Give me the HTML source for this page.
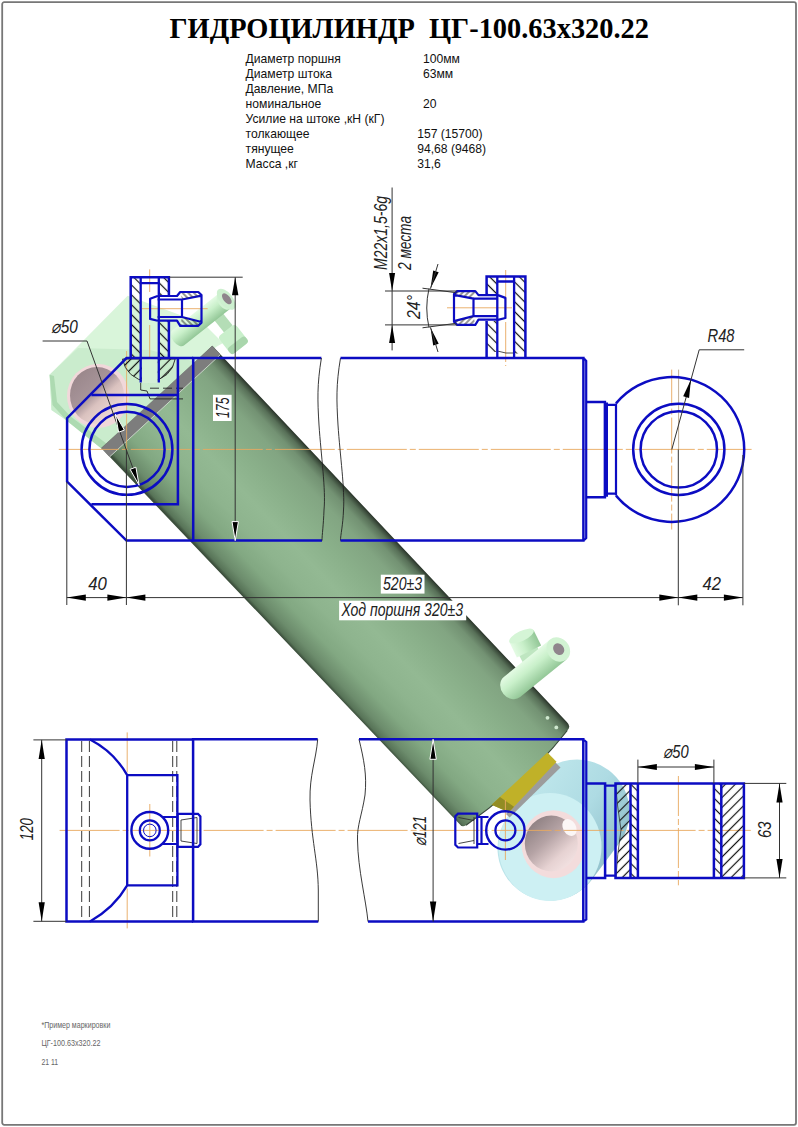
<!DOCTYPE html>
<html lang="ru"><head><meta charset="utf-8"><title>Гидроцилиндр ЦГ-100.63х320.22</title>
<style>
html,body{margin:0;padding:0;background:#fff;}
body{width:798px;height:1127px;overflow:hidden;position:relative;font-family:"Liberation Sans",sans-serif;}
svg{position:absolute;left:0;top:0;display:block;}
svg text{font-family:"Liberation Sans",sans-serif;}
svg text.ttl{font-family:"Liberation Serif",serif;font-weight:bold;}
</style></head><body>
<svg width="798" height="1127" viewBox="0 0 798 1127">
<defs>
<linearGradient id="cyl" gradientUnits="userSpaceOnUse" x1="126.7" y1="472.2" x2="235.1" y2="370">
<stop offset="0" stop-color="#3c4f3c"/>
<stop offset="0.02" stop-color="#587458"/>
<stop offset="0.07" stop-color="#6c8c6c"/>
<stop offset="0.18" stop-color="#82a882"/>
<stop offset="0.32" stop-color="#8eb48e"/>
<stop offset="0.48" stop-color="#93b993"/>
<stop offset="0.65" stop-color="#8ab08a"/>
<stop offset="0.82" stop-color="#82a582"/>
<stop offset="0.91" stop-color="#739273"/>
<stop offset="0.96" stop-color="#587058"/>
<stop offset="0.985" stop-color="#3c4c3c"/>
<stop offset="1" stop-color="#283228"/>
</linearGradient>
<linearGradient id="tube" x1="0" y1="0" x2="0" y2="1">
<stop offset="0" stop-color="#e4fbe4"/>
<stop offset="0.4" stop-color="#c9f0ca"/>
<stop offset="1" stop-color="#93c797"/>
</linearGradient>
<linearGradient id="cyan" x1="0" y1="0" x2="1" y2="1">
<stop offset="0" stop-color="#d8f6f6"/>
<stop offset="1" stop-color="#a8dde2"/>
</linearGradient>
<linearGradient id="eyeside" gradientUnits="userSpaceOnUse" x1="520" y1="780" x2="630" y2="850">
<stop offset="0" stop-color="#c2e9ed"/><stop offset="0.55" stop-color="#aedbe3"/><stop offset="1" stop-color="#8bbbc6"/>
</linearGradient>
<linearGradient id="bore2" x1="0.15" y1="0.1" x2="0.85" y2="0.9">
<stop offset="0" stop-color="#8e8082"/><stop offset="0.4" stop-color="#b5a3a5"/><stop offset="0.75" stop-color="#e6d2d2"/><stop offset="1" stop-color="#f3e2e2"/>
</linearGradient>
<linearGradient id="bore3" x1="0.15" y1="0.1" x2="0.85" y2="0.9">
<stop offset="0" stop-color="#9a878b"/><stop offset="0.42" stop-color="#a8959a"/><stop offset="0.6" stop-color="#dac2bf"/><stop offset="1" stop-color="#f2e0dc"/>
</linearGradient>
<radialGradient id="bore" cx="0.35" cy="0.35" r="0.8">
<stop offset="0" stop-color="#8c7c7e"/>
<stop offset="0.6" stop-color="#b8a4a6"/>
<stop offset="1" stop-color="#e8d0d0"/>
</radialGradient>
<pattern id="hb" width="7" height="7" patternUnits="userSpaceOnUse" patternTransform="rotate(-45)">
<line x1="3.5" y1="-1" x2="3.5" y2="8" stroke="#111" stroke-width="1.2"/>
</pattern>
<pattern id="hf" width="7" height="7" patternUnits="userSpaceOnUse" patternTransform="rotate(45)">
<line x1="3.5" y1="-1" x2="3.5" y2="8" stroke="#111" stroke-width="1.2"/>
</pattern>
<pattern id="hb2" width="4" height="4" patternUnits="userSpaceOnUse" patternTransform="rotate(-45)">
<line x1="2" y1="-1" x2="2" y2="5" stroke="#1a1a1a" stroke-width="0.9"/>
</pattern>
<pattern id="hf2" width="4" height="4" patternUnits="userSpaceOnUse" patternTransform="rotate(45)">
<line x1="2" y1="-1" x2="2" y2="5" stroke="#1a1a1a" stroke-width="0.9"/>
</pattern>
</defs>
<rect x="0" y="0" width="798" height="1127" fill="#fff"/>
<rect x="2.2" y="2.2" width="793.8" height="1122.6" fill="none" stroke="#777" stroke-width="1.8" rx="2"/>

<g id="shaded">
<g id="eye3d">
<line x1="577" y1="812" x2="550" y2="848" stroke="url(#eyeside)" stroke-width="105" stroke-linecap="round"/>
<ellipse cx="550" cy="847" rx="51.5" ry="54" fill="#cdf0f3"/>
<ellipse cx="553.5" cy="844.2" rx="32" ry="34" fill="#f3dcdc"/>
<ellipse cx="551.3" cy="843.5" rx="26.5" ry="28" fill="url(#bore2)"/>
<ellipse cx="569.5" cy="827.5" rx="6.5" ry="9" fill="#fbf6f6" transform="rotate(-30 569.5 827.5)"/>
</g>
<g id="clevis3d">
<polygon points="49.6,374.7 127.7,295.8 172,312 204,324 223,343 216,347 102,449 66,420 51.5,410" fill="#d9f5da"/>
<polygon points="49.6,374.7 78,348 150,350 196,362 102,449 66,420 51.5,410" fill="#caeccd"/>
<polygon points="49.6,374.7 52.5,405 66.3,420.2 102,449 107,444 70,416 57,402 54,376" fill="#addab1"/>
<ellipse cx="98" cy="396" rx="31" ry="32" fill="#f1d8da"/>
<ellipse cx="97" cy="395.5" rx="27" ry="28.5" fill="url(#bore3)"/>
</g>
<g id="fit3d1">
<g transform="translate(214.0 311.0) rotate(51.3)"><rect x="0" y="-5.5" width="22.4" height="11.0" fill="#b4ddb6"/><ellipse cx="22.4" cy="0" rx="1.0" ry="5.5" fill="#b4ddb6"/></g>
<g transform="translate(233 339) rotate(-38)"><rect x="-11" y="-11" width="22" height="23" rx="4" fill="#c9efcb"/><rect x="-11" y="4" width="22" height="8" rx="3" fill="#a9d6ac"/></g>
<g transform="translate(178.0 338.0) rotate(-38.4)"><path d="M0,-9.5 L58.7,-9.5 L58.7,9.5 L0,9.5 A5.5,9.5 0 0 1 0,-9.5 Z" fill="url(#tube)"/><ellipse cx="58.7" cy="0" rx="5.5" ry="9.5" fill="#d2f3d3"/></g>
<g transform="translate(226.2 299.3) rotate(-39)"><ellipse cx="0" cy="0" rx="6.5" ry="12.5" fill="#cdf0cf"/><ellipse cx="0.8" cy="0" rx="3.4" ry="6.5" fill="#8f858c"/></g>
</g>
<path d="M101.3,448.1 L212.3,345.8 L566.8,722 Q571.5,726.5 567.3,730.5 Q526,783 466,825.2 Q462,828 459,823.5 Z" fill="url(#cyl)"/>
<polygon points="101.3,448.1 212.3,345.8 220.5,354.6 109.6,456.9" fill="#7d7d7d"/>
<line x1="109.6" y1="456.9" x2="220.5" y2="354.6" stroke="#d9e6d9" stroke-width="0.8"/>
<path d="M567.3,730.5 Q526,783 466,825.2" fill="none" stroke="#3a4a3a" stroke-width="1.2"/>
<polygon points="555.3,762.3 560.5,767.5 509.6,817.5 506,814" fill="#9c9c9c"/>
<polygon points="547.4,752.6 556.5,761.8 508.8,812.3 491.6,804.7" fill="#c0b128"/>
<polygon points="491.6,804.7 500,797 514,806.8 508.8,812.3" fill="#928c24"/>
<circle cx="547.5" cy="717.8" r="1.9" fill="#cfe8cf"/><circle cx="556.3" cy="727.4" r="1.9" fill="#cfe8cf"/>
<g id="fit3d2">
<g transform="translate(535.0 664.0) rotate(-117.9)"><rect x="0" y="-10.0" width="19.2" height="20.0" fill="#bfe6c1"/><ellipse cx="19.2" cy="0" rx="3.0" ry="10.0" fill="#bfe6c1"/></g>
<g transform="translate(529.0 651.5) rotate(-115.8)"><rect x="0" y="-13.5" width="17.2" height="27.0" fill="url(#tube)"/><ellipse cx="17.2" cy="0" rx="5.0" ry="13.5" fill="#d5f5d6"/></g>
<g transform="translate(512.0 687.0) rotate(-39.0)"><path d="M0,-13.0 L59.6,-13.0 L59.6,13.0 L0,13.0 A11.0,13.0 0 0 1 0,-13.0 Z" fill="url(#tube)"/><ellipse cx="59.6" cy="0" rx="11.0" ry="13.0" fill="#d2f3d3"/><ellipse cx="60.1" cy="0" rx="5.2" ry="6.2" fill="#8f858c"/></g>
</g>
</g>
<g id="topview" fill="none">
<line x1="58.8" y1="449.4" x2="751.6" y2="449.4" stroke="#e8a860" stroke-width="0.9" stroke-dasharray="60 3 6 3"/>
<line x1="126.6" y1="351.0" x2="126.6" y2="449.0" stroke="#e8a860" stroke-width="0.8"/>
<line x1="149.7" y1="269.4" x2="149.7" y2="292.0" stroke="#e8a860" stroke-width="0.9"/>
<line x1="149.7" y1="325.0" x2="149.7" y2="376.0" stroke="#e8a860" stroke-width="0.9"/>
<line x1="142.0" y1="308.7" x2="207.7" y2="308.7" stroke="#e8a860" stroke-width="0.9"/>
<line x1="505.7" y1="270.0" x2="505.7" y2="366.0" stroke="#e8a860" stroke-width="0.9" stroke-dasharray="40 3 6 3"/>
<line x1="447.0" y1="307.8" x2="512.0" y2="307.8" stroke="#e8a860" stroke-width="0.9"/>
<line x1="671.7" y1="369.6" x2="671.7" y2="529.5" stroke="#e8a860" stroke-width="0.9" stroke-dasharray="36 3 6 3"/>
<line x1="678.6" y1="369.6" x2="678.6" y2="449.0" stroke="#b9a48a" stroke-width="0.9"/>
<rect x="130.7" y="277.3" width="10" height="80.6" fill="url(#hb)" stroke="none"/>
<rect x="158.8" y="277.3" width="10" height="19" fill="url(#hb)" stroke="none"/>
<rect x="158.8" y="320" width="10" height="38" fill="url(#hb)" stroke="none"/>
<path d="M122.5,359 Q126,378 148.8,382.5 Q172,378 175.2,359 Z" fill="url(#hf)" stroke="#222" stroke-width="0.9"/>
<rect x="141.9" y="359" width="15.8" height="24" fill="#d3efd6" stroke="none"/>
<path d="M140.7,383 L140.7,390 L147,391 L150,398.9 L183,398.9" fill="none" stroke="#222" stroke-width="0.9"/>
<line x1="150.0" y1="388.2" x2="183.0" y2="388.2" stroke="#222" stroke-width="0.9" stroke-dasharray="9 4"/>
<rect x="486.6" y="276.5" width="10.7" height="19" fill="url(#hb)" stroke="none"/>
<rect x="486.6" y="321" width="10.7" height="31" fill="url(#hb)" stroke="none"/>
<rect x="514.1" y="276.5" width="11.3" height="77" fill="url(#hb)" stroke="none"/>
<path d="M497.3,351 Q506,354 514.1,353" fill="none" stroke="#222" stroke-width="0.8"/>
<path d="M193.2,358 L126.5,358 L67.1,418.2 L67.1,481.6 L126.5,540.6 L193.2,540.6" fill="none" stroke="#0c0cc2" stroke-width="2.5"/>
<path d="M91.4,395 L177.9,395 M177.9,358 L177.9,504.2 L91.4,504.2" fill="none" stroke="#0c0cc2" stroke-width="2.5"/>
<circle cx="127" cy="449.4" r="45.4" stroke="#0c0cc2" stroke-width="2.5"/>
<circle cx="127" cy="449.4" r="37.6" stroke="#0c0cc2" stroke-width="2.5"/>
<path d="M321.4,358 L193.2,358 L193.2,540.6 L322,540.6" fill="none" stroke="#0c0cc2" stroke-width="2.5"/>
<path d="M321.4,358 C317,385 317.5,400 319,425 C321,455 326,490 324,510 C323.5,525 322,535 322,540.6" fill="none" stroke="#222" stroke-width="0.9"/>
<path d="M340.5,358 C336,385 336.5,400 338,425 C340,455 345,490 343.5,510 C343,525 340.5,535 340.5,540.6" fill="none" stroke="#222" stroke-width="0.9"/>
<path d="M340.5,358 L583.4,358 L583.4,540.6 L340.5,540.6" fill="none" stroke="#0c0cc2" stroke-width="2.5"/>
<path d="M584,358.5 L586.2,361 L586.2,538 L584,540.2" fill="none" stroke="#0c0cc2" stroke-width="2.2"/>
<path d="M586.7,401.9 L604.9,401.9 L604.9,497.3 L586.7,497.3" fill="none" stroke="#0c0cc2" stroke-width="2.5"/>
<path d="M606.9,404.9 L616,404.9 M606.9,493.7 L616,493.7 M616,403.6 L616,495.4 M606.9,402.5 L606.9,496.7" fill="none" stroke="#0c0cc2" stroke-width="2.2"/>
<path d="M616,403.4 A72.4,72.4 0 1 1 616,495.6" fill="none" stroke="#0c0cc2" stroke-width="2.5"/>
<circle cx="678.8" cy="449.4" r="45.6" stroke="#0c0cc2" stroke-width="2.5"/>
<circle cx="678.8" cy="449.4" r="38.2" stroke="#0c0cc2" stroke-width="2.5"/>
<path d="M130.7,358 L130.7,277.3 L168.9,277.3 L168.9,296 M168.9,320.5 L168.9,358" fill="none" stroke="#0c0cc2" stroke-width="2.5"/>
<path d="M140.7,277.3 L140.7,382.6 M158.8,277.3 L158.8,382.6 M140.7,283.2 L158.8,283.2" fill="none" stroke="#0c0cc2" stroke-width="2.3"/>
<path d="M157.6,296 L150.1,298.8 L150.1,318.9 L157.6,320.8 M157.6,296 L177,296 L180.2,292 L198.3,292 L201.5,295 L201.5,322.6 L198.3,325.8 L180.2,325.8 L177,320.6 L157.6,320.6 M157.6,299.5 L182,299.5 L182,317 L157.6,317 M182,299.5 L201.5,295.7 M182,317 L201.5,322" fill="none" stroke="#0c0cc2" stroke-width="2.2" stroke-linejoin="round"/>
<polygon points="180.2,293 198.3,293 200.5,295.5 182,299" fill="url(#hb2)"/>
<polygon points="180.2,325 198.3,325 200.5,322.3 182,317.5" fill="url(#hb2)"/>
<path d="M486.6,357.4 L486.6,320.9 M486.6,295.3 L486.6,276.5 L525.4,276.5 L525.4,357.4" fill="none" stroke="#0c0cc2" stroke-width="2.5"/>
<path d="M497.3,276.5 L497.3,357.4 M514.1,276.5 L514.1,357.4 M497.3,281.5 L514.1,281.5" fill="none" stroke="#0c0cc2" stroke-width="2.3"/>
<path d="M 497.9,295.1 L 505.4,297.9 L 505.4,318.0 L 497.9,319.9 M 497.9,295.1 L 478.5,295.1 L 475.3,291.1 L 457.2,291.1 L 454.0,294.1 L 454.0,321.7 L 457.2,324.9 L 475.3,324.9 L 478.5,319.7 L 497.9,319.7 M 497.9,298.6 L 473.5,298.6 L 473.5,316.1 L 497.9,316.1 M 473.5,298.6 L 454.0,294.8 M 473.5,316.1 L 454.0,321.1" fill="none" stroke="#0c0cc2" stroke-width="2.2" stroke-linejoin="round"/>
<polygon points="475.3,292.1 457.2,292.1 455.0,294.6 473.5,298.1" fill="url(#hf2)"/>
<polygon points="475.3,324.1 457.2,324.1 455.0,321.4 473.5,316.6" fill="url(#hf2)"/>
</g>
<g id="botview" fill="none">
<line x1="59.6" y1="830.4" x2="750.8" y2="830.4" stroke="#e8a860" stroke-width="0.9" stroke-dasharray="60 3 6 3"/>
<line x1="127.2" y1="732.4" x2="127.2" y2="929.5" stroke="#e8a860" stroke-width="0.9" stroke-dasharray="40 3 6 3"/>
<line x1="149.8" y1="804.0" x2="149.8" y2="856.5" stroke="#e8a860" stroke-width="0.9"/>
<line x1="505.4" y1="800.0" x2="505.4" y2="860.0" stroke="#e8a860" stroke-width="0.9"/>
<line x1="678.4" y1="776.0" x2="678.4" y2="885.3" stroke="#e8a860" stroke-width="0.9" stroke-dasharray="40 3 6 3"/>
<line x1="81.7" y1="741.0" x2="81.7" y2="920.0" stroke="#222" stroke-width="0.9" stroke-dasharray="11 4"/>
<line x1="89.4" y1="741.0" x2="89.4" y2="920.0" stroke="#222" stroke-width="0.9" stroke-dasharray="11 4"/>
<line x1="172.7" y1="741.0" x2="172.7" y2="920.0" stroke="#222" stroke-width="0.9" stroke-dasharray="11 4"/>
<line x1="176.8" y1="741.0" x2="176.8" y2="920.0" stroke="#222" stroke-width="0.9" stroke-dasharray="11 4"/>
<path d="M193.1,739.6 L66.5,739.6 L66.5,921.4 L193.1,921.4" fill="none" stroke="#0c0cc2" stroke-width="2.5"/>
<path d="M90,739.6 Q114,752 127.2,775.1 L177.4,775.1 L177.4,885.4 L127.2,885.4 Q114,908 90,921.4 M127.2,775.1 L127.2,885.4" fill="none" stroke="#0c0cc2" stroke-width="2.3"/>
<circle cx="149.8" cy="830.4" r="18.4" stroke="#0c0cc2" stroke-width="2.4"/>
<circle cx="149.8" cy="830.4" r="10" stroke="#0c0cc2" stroke-width="2.2"/>
<circle cx="149.8" cy="830.4" r="6.3" stroke="#0c0cc2" stroke-width="1"/>
<path d="M163,817 L177.6,817 M163,844 L177.6,844 M177.6,813.8 L198,813.8 L200.4,816.5 L200.4,844.3 L198,846.9 L177.6,846.9 Z" fill="none" stroke="#0c0cc2" stroke-width="2.2"/>
<path d="M181,820 L197,817.5 L197,843.5 L181,841 Z" fill="none" stroke="#333" stroke-width="0.9"/>
<path d="M317.7,739.3 L193.1,739.3 L193.1,921.6 L318.3,921.6" fill="none" stroke="#0c0cc2" stroke-width="2.5"/>
<path d="M317.7,739.3 C316,760 309.5,775 310,800 C311,840 318,860 318.3,890 L318.3,921.6" fill="none" stroke="#222" stroke-width="0.9"/>
<path d="M359,739.3 C364,760 367,775 365,795 C362,815 357,825 357.5,840 C358,870 366,900 368,921.6" fill="none" stroke="#222" stroke-width="0.9"/>
<path d="M359,739.3 L583.3,739.3 L583.3,921.6 L368,921.6" fill="none" stroke="#0c0cc2" stroke-width="2.5"/>
<path d="M584,740 L586.3,742 L586.3,919.5 L584,921" fill="none" stroke="#0c0cc2" stroke-width="2.2"/>
<circle cx="505.4" cy="830.4" r="19.2" stroke="#0c0cc2" stroke-width="2.4"/>
<circle cx="505.4" cy="830.4" r="10" stroke="#0c0cc2" stroke-width="2.2"/>
<path d="M488.5,817 L477.2,817 M488.5,844 L477.2,844 M477.2,813.6 L458,813.6 L455.3,816.3 L455.3,844.8 L458,847.5 L477.2,847.5 Z M481.5,817 L481.5,844" fill="none" stroke="#0c0cc2" stroke-width="2.2"/>
<path d="M474,820.5 L458.5,817.5 M474,840.5 L458.5,843.5 M474,817 L474,844" fill="none" stroke="#333" stroke-width="0.9"/>
<path d="M586.9,783.4 L605.1,783.4 L605.1,877.9 L586.9,877.9" fill="none" stroke="#0c0cc2" stroke-width="2.5"/>
<path d="M605.1,785.6 L615.5,785.6 M605.1,875.7 L615.5,875.7" fill="none" stroke="#0c0cc2" stroke-width="2.2"/>
<path d="M615.5,784 L630.5,784 L630.5,877.5 L616,877.5 Q617,855 621,830 Q617,805 615.5,784 Z" fill="url(#hf)" stroke="#222" stroke-width="0.7"/>
<rect x="630.5" y="783.4" width="7.4" height="94.5" fill="url(#hb)" stroke="none"/>
<rect x="713.9" y="783.4" width="7.4" height="94.5" fill="url(#hb)" stroke="none"/>
<rect x="721.3" y="783.4" width="22.6" height="94.5" fill="url(#hf)" stroke="none"/>
<path d="M615.5,783.4 L743.9,783.4 L743.9,877.9 L615.5,877.9 Z" fill="none" stroke="#0c0cc2" stroke-width="2.5"/>
<path d="M630.5,783.4 L630.5,877.9 M637.9,783.4 L637.9,877.9 M713.9,783.4 L713.9,877.9 M721.3,783.4 L721.3,877.9" fill="none" stroke="#0c0cc2" stroke-width="2.5"/>
</g>
<g id="dims">
<path d="M42.6,341 L87,341 L139.1,485.2" fill="none" stroke="#333" stroke-width="1"/>
<polygon points="115.4,414.2 124.4,430.1 118.6,432.2" fill="#000" stroke="#fff" stroke-width="1"/>
<polygon points="139.1,485.2 130.1,469.3 135.9,467.2" fill="#000" stroke="#fff" stroke-width="1"/>
<text x="51.4" y="332.6" font-size="18" font-style="italic" fill="#222" text-anchor="start" textLength="26.5" lengthAdjust="spacingAndGlyphs">⌀50</text>
<line x1="168.9" y1="277.2" x2="242.7" y2="277.2" stroke="#333" stroke-width="1"/>
<line x1="235.2" y1="277.2" x2="235.2" y2="540.6" stroke="#333" stroke-width="1"/>
<polygon points="235.2,277.2 238.4,295.2 232.0,295.2" fill="#000"/>
<polygon points="235.2,540.6 232.0,521.6 238.4,521.6" fill="#000" stroke="#fff" stroke-width="1"/>
<rect x="213" y="394.8" width="18.6" height="26.2" fill="#fff"/>
<text x="228.8" y="418.0" font-size="18" font-style="italic" fill="#222" text-anchor="start" textLength="20.5" lengthAdjust="spacingAndGlyphs" transform="rotate(-90 228.8 418.0)">175</text>
<line x1="392.1" y1="187.5" x2="392.1" y2="350.4" stroke="#333" stroke-width="1"/>
<line x1="385.0" y1="291.0" x2="457.0" y2="291.0" stroke="#333" stroke-width="1"/>
<line x1="385.0" y1="324.9" x2="457.0" y2="324.9" stroke="#333" stroke-width="1"/>
<polygon points="392.1,291.0 389.1,273.0 395.1,273.0" fill="#000"/>
<polygon points="392.1,324.9 395.1,342.9 389.1,342.9" fill="#000"/>
<text x="386.6" y="270.0" font-size="18" font-style="italic" fill="#222" text-anchor="start" textLength="74.0" lengthAdjust="spacingAndGlyphs" transform="rotate(-90 386.6 270.0)">M22x1,5-6g</text>
<text x="411.0" y="270.0" font-size="18" font-style="italic" fill="#222" text-anchor="start" textLength="54.0" lengthAdjust="spacingAndGlyphs" transform="rotate(-90 411.0 270.0)">2 места</text>
<line x1="455.4" y1="292.6" x2="422.5" y2="288.2" stroke="#333" stroke-width="1"/>
<line x1="455.4" y1="323.4" x2="422.5" y2="327.8" stroke="#333" stroke-width="1"/>
<path d="M429,288.5 Q424.5,308 429,327.5" fill="none" stroke="#333" stroke-width="1"/>
<polygon points="430.5,288.6 433.2,270.6 438.7,272.3" fill="#000"/>
<line x1="430.5" y1="288.6" x2="438.0" y2="264.0" stroke="#333" stroke-width="1"/>
<polygon points="430.5,327.4 438.7,343.7 433.2,345.4" fill="#000"/>
<line x1="430.5" y1="327.4" x2="438.0" y2="352.0" stroke="#333" stroke-width="1"/>
<text x="419.6" y="319.0" font-size="18" font-style="italic" fill="#222" text-anchor="start" textLength="24.0" lengthAdjust="spacingAndGlyphs" transform="rotate(-90 419.6 319.0)">24°</text>
<path d="M671.8,449.5 L699.2,349.8 L744.2,349.8" fill="none" stroke="#333" stroke-width="1"/>
<polygon points="690.9,379.8 689.1,398.0 683.2,396.3" fill="#000"/>
<text x="707.5" y="341.5" font-size="18" font-style="italic" fill="#222" text-anchor="start" textLength="27.0" lengthAdjust="spacingAndGlyphs">R48</text>
<line x1="66.8" y1="482.0" x2="66.8" y2="605.0" stroke="#333" stroke-width="1"/>
<line x1="126.4" y1="449.4" x2="126.4" y2="605.0" stroke="#333" stroke-width="1"/>
<line x1="678.3" y1="449.4" x2="678.3" y2="605.3" stroke="#333" stroke-width="1"/>
<line x1="742.9" y1="455.0" x2="742.9" y2="605.3" stroke="#333" stroke-width="1"/>
<line x1="66.8" y1="597.6" x2="742.9" y2="597.6" stroke="#333" stroke-width="1"/>
<polygon points="66.8,597.6 85.8,594.5 85.8,600.7" fill="#000"/>
<polygon points="126.4,597.6 107.4,600.7 107.4,594.5" fill="#000"/>
<polygon points="126.4,597.6 145.4,594.5 145.4,600.7" fill="#000"/>
<polygon points="678.3,597.6 659.3,600.7 659.3,594.5" fill="#000"/>
<polygon points="678.3,597.6 697.3,594.5 697.3,600.7" fill="#000"/>
<polygon points="742.9,597.6 723.9,600.7 723.9,594.5" fill="#000"/>
<text x="88.2" y="590.0" font-size="18" font-style="italic" fill="#222" text-anchor="start" textLength="18.6" lengthAdjust="spacingAndGlyphs">40</text>
<text x="702.6" y="589.8" font-size="18" font-style="italic" fill="#222" text-anchor="start" textLength="18.4" lengthAdjust="spacingAndGlyphs">42</text>
<rect x="380.8" y="574.7" width="43.7" height="18.9" fill="#fff"/>
<text x="383.0" y="590.0" font-size="18" font-style="italic" fill="#222" text-anchor="start" textLength="39.0" lengthAdjust="spacingAndGlyphs">520±3</text>
<rect x="339.1" y="600.7" width="127.1" height="19.6" fill="#fff"/>
<text x="341.5" y="616.0" font-size="18" font-style="italic" fill="#222" text-anchor="start" textLength="121.5" lengthAdjust="spacingAndGlyphs">Ход поршня 320±3</text>
<line x1="33.4" y1="739.9" x2="66.5" y2="739.9" stroke="#333" stroke-width="1"/>
<line x1="33.4" y1="921.3" x2="66.5" y2="921.3" stroke="#333" stroke-width="1"/>
<line x1="41.7" y1="739.9" x2="41.7" y2="921.3" stroke="#333" stroke-width="1"/>
<polygon points="41.7,739.9 44.8,758.9 38.6,758.9" fill="#000"/>
<polygon points="41.7,921.3 38.6,902.3 44.8,902.3" fill="#000"/>
<text x="33.0" y="840.2" font-size="18" font-style="italic" fill="#222" text-anchor="start" textLength="22.0" lengthAdjust="spacingAndGlyphs" transform="rotate(-90 33.0 840.2)">120</text>
<line x1="433.1" y1="739.0" x2="433.1" y2="921.6" stroke="#333" stroke-width="1"/>
<polygon points="433.1,739.3 436.3,759.3 429.9,759.3" fill="#000" stroke="#fff" stroke-width="1"/>
<polygon points="433.1,921.6 429.9,901.6 436.3,901.6" fill="#000"/>
<text x="426.2" y="846.1" font-size="18" font-style="italic" fill="#222" text-anchor="start" textLength="30.3" lengthAdjust="spacingAndGlyphs" transform="rotate(-90 426.2 846.1)">⌀121</text>
<line x1="637.9" y1="759.6" x2="637.9" y2="783.4" stroke="#333" stroke-width="1"/>
<line x1="713.9" y1="759.6" x2="713.9" y2="783.4" stroke="#333" stroke-width="1"/>
<line x1="637.9" y1="767.0" x2="713.9" y2="767.0" stroke="#333" stroke-width="1"/>
<polygon points="637.9,767.0 656.9,763.9 656.9,770.1" fill="#000"/>
<polygon points="713.9,767.0 694.9,770.1 694.9,763.9" fill="#000"/>
<text x="663.3" y="758.3" font-size="18" font-style="italic" fill="#222" text-anchor="start" textLength="25.4" lengthAdjust="spacingAndGlyphs">⌀50</text>
<line x1="743.9" y1="783.4" x2="786.3" y2="783.4" stroke="#333" stroke-width="1"/>
<line x1="743.9" y1="877.9" x2="786.3" y2="877.9" stroke="#333" stroke-width="1"/>
<line x1="779.5" y1="783.4" x2="779.5" y2="877.9" stroke="#333" stroke-width="1"/>
<polygon points="779.5,783.4 782.6,802.4 776.4,802.4" fill="#000"/>
<polygon points="779.5,877.9 776.4,858.9 782.6,858.9" fill="#000"/>
<text x="771.3" y="838.0" font-size="18" font-style="italic" fill="#222" text-anchor="start" textLength="16.4" lengthAdjust="spacingAndGlyphs" transform="rotate(-90 771.3 838.0)">63</text>
</g>
<text class="ttl" x="169.5" y="38.3" font-size="29.4" fill="#000" textLength="479.5" lengthAdjust="spacingAndGlyphs" xml:space="preserve">ГИДРОЦИЛИНДР  ЦГ-100.63х320.22</text>
<g font-size="12.15" fill="#111">
<text x="245.6" y="63">Диаметр поршня</text>
<text x="423.0" y="63">100мм</text>
<text x="245.6" y="78">Диаметр штока</text>
<text x="423.0" y="78">63мм</text>
<text x="245.6" y="93">Давление, МПа</text>
<text x="245.6" y="108">номинальное</text>
<text x="423.0" y="108">20</text>
<text x="245.6" y="123">Усилие на штоке ,кН (кГ)</text>
<text x="245.6" y="138">толкающее</text>
<text x="417.2" y="138">157 (15700)</text>
<text x="245.6" y="153">тянущее</text>
<text x="417.2" y="153">94,68 (9468)</text>
<text x="245.6" y="168">Масса ,кг</text>
<text x="417.2" y="168">31,6</text>
</g>
<g font-size="9.5" fill="#666">
<text x="41.4" y="1028" textLength="69" lengthAdjust="spacingAndGlyphs">*Пример маркировки</text>
<text x="41.4" y="1046.4" textLength="59" lengthAdjust="spacingAndGlyphs">ЦГ-100.63х320.22</text>
<text x="41.4" y="1065.2" textLength="16.7" lengthAdjust="spacingAndGlyphs" xml:space="preserve">21 11</text>
</g>
</svg></body></html>
